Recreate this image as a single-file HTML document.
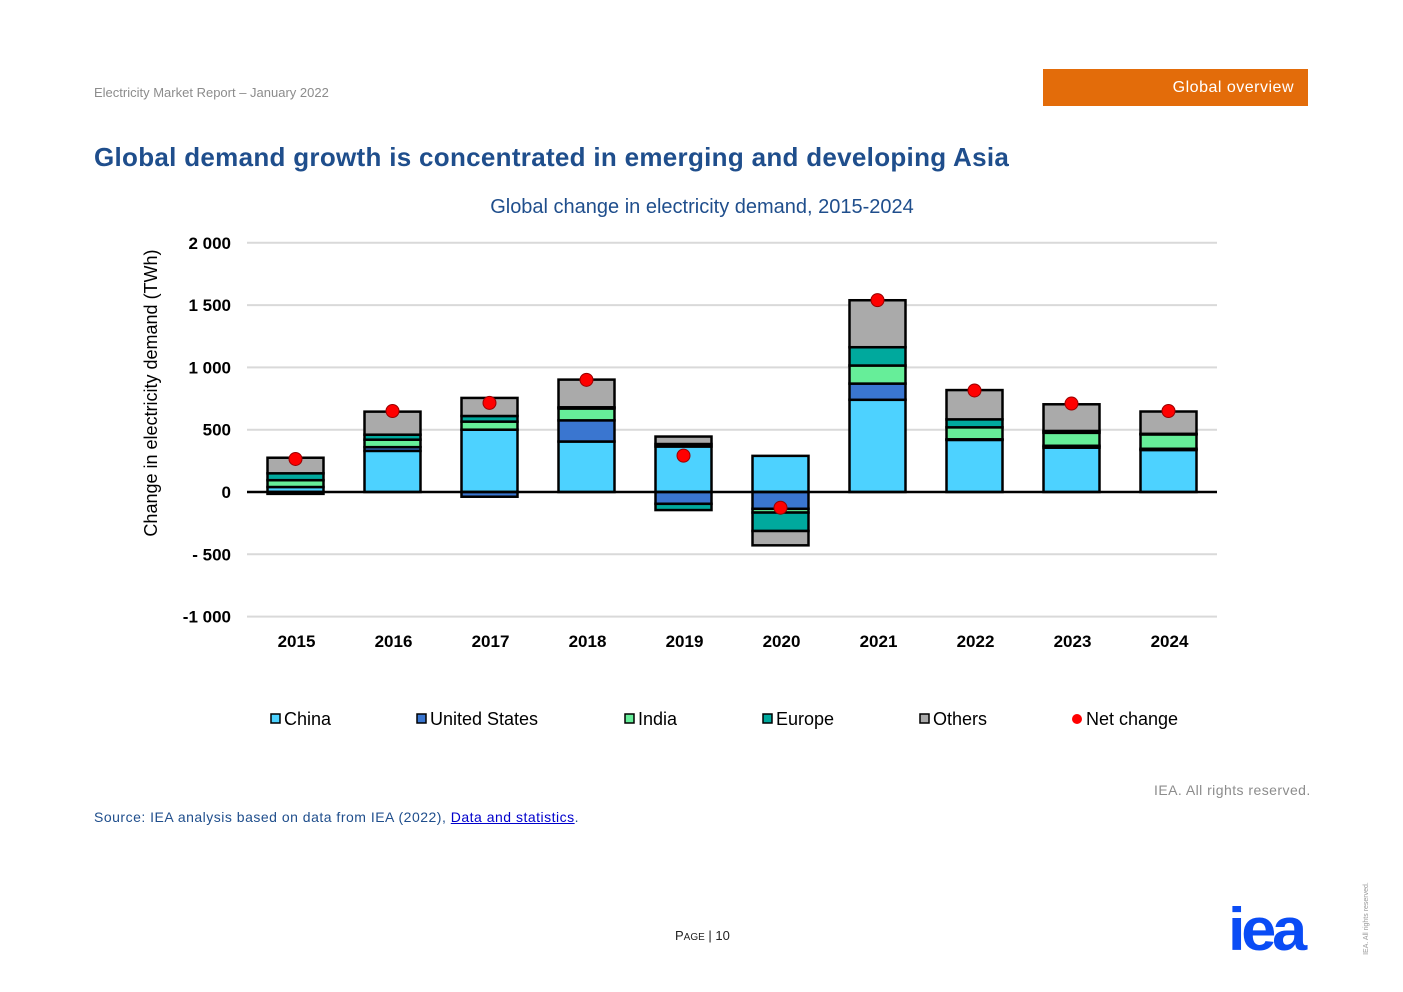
<!DOCTYPE html>
<html><head><meta charset="utf-8">
<style>
body{margin:0;width:1403px;height:992px;background:#fff;position:relative;font-family:"Liberation Sans",sans-serif;overflow:hidden}
.abs{position:absolute}
</style></head><body>
<div class="abs" style="left:94px;top:85px;font-size:13px;color:#8c8c8c">Electricity Market Report – January 2022</div>
<div class="abs" style="left:1043px;top:69px;width:265px;height:37px;background:#e36c0a;color:#fff;font-size:16px;letter-spacing:0.5px;line-height:37px;text-align:right;box-sizing:border-box;padding-right:14px">Global overview</div>
<div class="abs" style="left:94px;top:142px;font-size:26px;letter-spacing:0.3px;font-weight:bold;color:#1f4e8c">Global demand growth is concentrated in emerging and developing Asia</div>
<svg class="abs" style="left:0;top:0" width="1403" height="992" id="chart"></svg>
<div class="abs" style="left:1154px;top:782px;font-size:14px;letter-spacing:0.45px;color:#8c8c8c">IEA. All rights reserved.</div>
<div class="abs" style="left:94px;top:809px;font-size:14px;letter-spacing:0.5px;color:#1f4e8c">Source: IEA analysis based on data from IEA (2022), <span style="color:#0000cc;text-decoration:underline">Data and statistics</span>.</div>
<div class="abs" style="left:675px;top:928px;font-size:13px;color:#222">P<span style="font-size:10px">AGE</span> | 10</div>
<div class="abs" style="left:1228px;top:900px;font-size:60px;font-weight:bold;color:#0a4cf5;letter-spacing:-4px;line-height:60px;transform:scaleX(1.05);transform-origin:left">iea</div>
<div class="abs" style="left:1330px;top:915px;font-size:7px;color:#999;transform:rotate(-90deg);white-space:nowrap">IEA. All rights reserved.</div>
<script>
const years=["2015","2016","2017","2018","2019","2020","2021","2022","2023","2024"];
const china=[40,330,500,405,365,290,740,418,356,337];
const us=[-15,30,-38,170,-95,-135,130,5,15,10];
const india=[55,60,65,95,20,-30,145,96,104,115];
const europe=[55,40,45,10,-50,-148,147,64,15,5];
const others=[125,185,145,222,60,-115,377,235,214,179];
const net=[265,650,715,900,292,-126,1540,815,710,650];
const yTicks=[2000,1500,1000,500,0,-500,-1000];
const yLabels=["2 000","1 500","1 000","500","0","- 500","-1 000"];
const svg=document.getElementById('chart');
const NS="http://www.w3.org/2000/svg";
const x0=247,x1=1217,yZero=492,pxPer=62.3/500;
const y=v=>yZero-v*pxPer;
const bw=(x1-x0)/years.length;
const xc=i=>x0+bw*(i+0.5);
function mk(t,a){const e=document.createElementNS(NS,t);for(const k in a)e.setAttribute(k,a[k]);svg.appendChild(e);return e;}
let t=mk('text',{x:702,y:213,'text-anchor':'middle','font-size':20,fill:'#1f4e8c'});t.textContent="Global change in electricity demand, 2015-2024";

t=mk('text',{x:0,y:0,'text-anchor':'middle','font-size':18,fill:'#000',transform:'translate(157,393) rotate(-90)'});t.textContent="Change in electricity demand (TWh)";

yTicks.forEach((v,i)=>{
 if(v!==0){const g=mk('line',{x1:x0,x2:x1,y1:y(v),y2:y(v),stroke:'#d9d9d9','stroke-width':2});
 }
 const l=mk('text',{x:231,y:y(v)+6,'text-anchor':'end','font-size':17,'font-weight':'bold',fill:'#000'});l.textContent=yLabels[i];
 
});
const series=[[china,'#4dd2ff','china'],[us,'#3a76d0','united-states'],[india,'#66ee99','india'],[europe,'#00a99d','europe'],[others,'#aaaaaa','others']];
const bwid=56;
years.forEach((yr,i)=>{
 let pos=0,neg=0;
 series.forEach(([arr,c,n])=>{
  const v=arr[i];let a,b;
  if(v>=0){a=pos;b=pos+v;pos=b;}else{a=neg;b=neg+v;neg=b;}
  const r=mk('rect',{x:xc(i)-bwid/2,y:Math.min(y(a),y(b)),width:bwid,height:Math.abs(y(a)-y(b)),fill:c,stroke:'#000','stroke-width':2.5});
  
 });
 const l=mk('text',{x:xc(i)+1,y:647,'text-anchor':'middle','font-size':17,'font-weight':'bold',fill:'#000'});l.textContent=yr;
 
});
const ax=mk('line',{x1:x0,x2:x1,y1:yZero,y2:yZero,stroke:'#000','stroke-width':2.5});

years.forEach((yr,i)=>{
 const d=mk('circle',{cx:xc(i),cy:y(net[i]),r:6.5,fill:'#ff0000',stroke:'#900','stroke-width':1});
 
});
const leg=[["China",'#4dd2ff',271],["United States",'#3a76d0',417],["India",'#66ee99',625],["Europe",'#00a99d',763],["Others",'#aaaaaa',920]];
leg.forEach(([n,c,x])=>{
 const r=mk('rect',{x:x,y:714,width:9,height:9,fill:c,stroke:'#000','stroke-width':1.5});
 
 const l=mk('text',{x:x+13,y:725,'font-size':18,fill:'#000'});l.textContent=n;
 
});
const lc=mk('circle',{cx:1077,cy:719,r:5,fill:'#ff0000'});

const ll=mk('text',{x:1086,y:725,'font-size':18,fill:'#000'});ll.textContent="Net change";

</script>
</body></html>
